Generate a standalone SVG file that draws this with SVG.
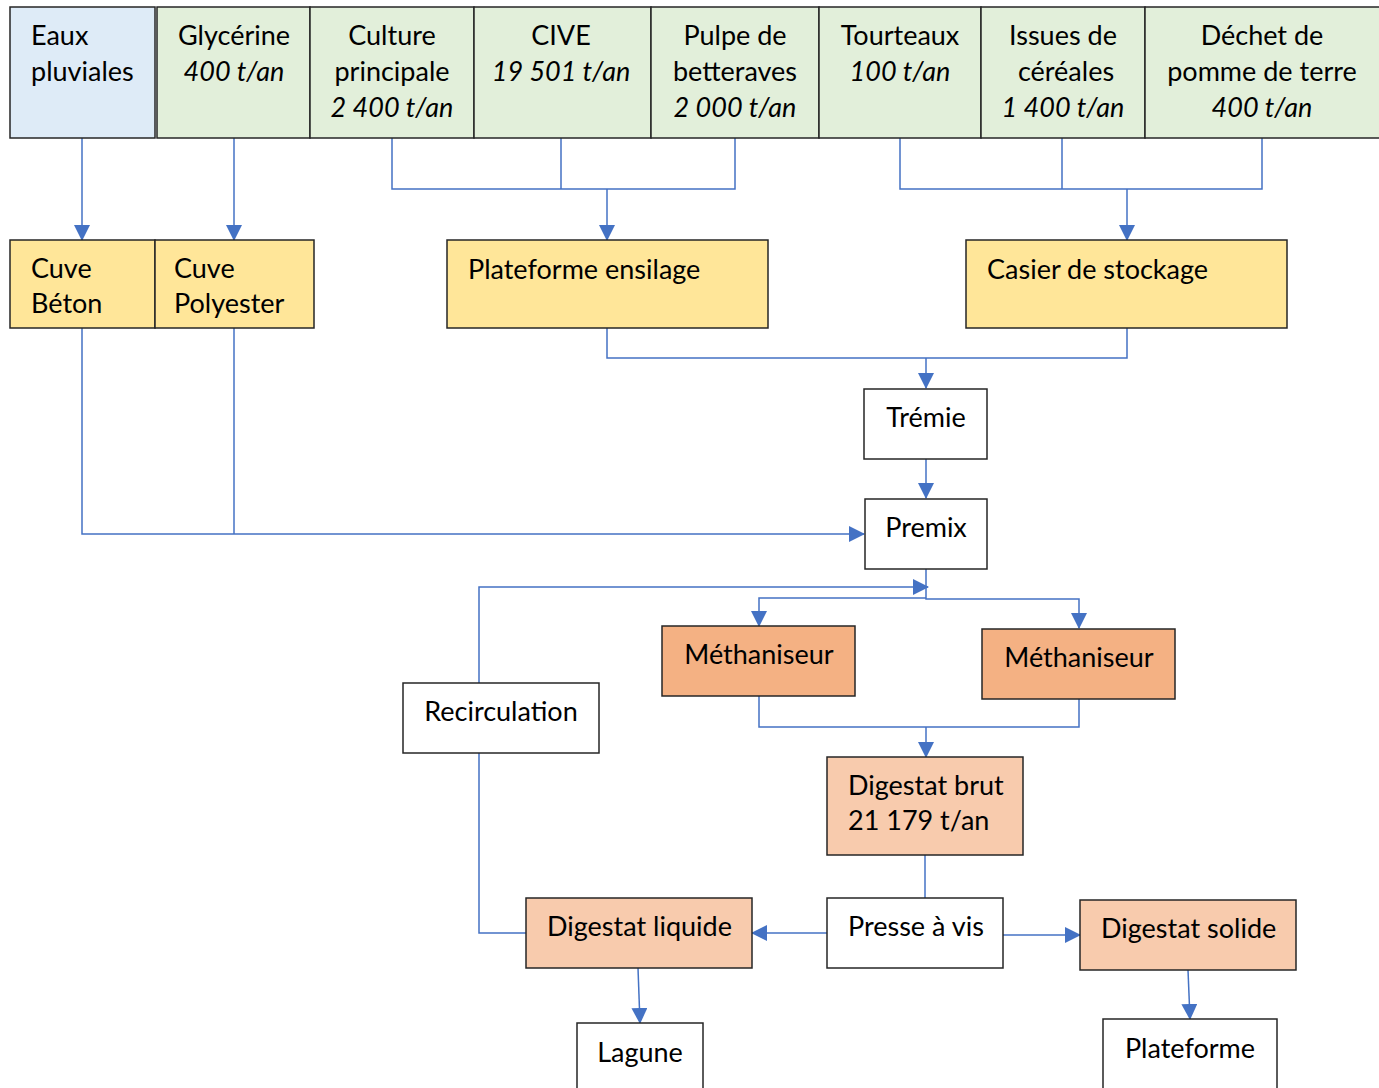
<svg xmlns="http://www.w3.org/2000/svg" width="1379" height="1088" viewBox="0 0 1379 1088">
<style>
.b{stroke:#262626;stroke-width:1.5}
.blue{fill:#deebf7}.green{fill:#e2efda}.yel{fill:#ffe699}.or{fill:#f4b183}.pk{fill:#f8cbad}.wh{fill:#ffffff}
text{font-family:Lato,"Open Sans","Liberation Sans",sans-serif;font-size:27px;fill:#000}
.c{text-anchor:middle}
.i{font-style:italic}
.ln{fill:none;stroke:#4472c4;stroke-width:1.5}
</style>
<defs>
<marker id="ah" markerUnits="userSpaceOnUse" markerWidth="16" markerHeight="16" viewBox="0 0 16 16" refX="15" refY="8" orient="auto">
<path d="M0,0 L16,8 L0,16 Z" fill="#4472c4"/>
</marker>
</defs>
<rect width="1379" height="1088" fill="#fff"/>

<g id="connectors">
<path class="ln" d="M82,138 V240" marker-end="url(#ah)"/>
<path class="ln" d="M234,138 V240" marker-end="url(#ah)"/>
<path class="ln" d="M392,138 V189 H735 V138 M561,138 V189"/>
<path class="ln" d="M607,189 V240" marker-end="url(#ah)"/>
<path class="ln" d="M900,138 V189 H1262 V138 M1062,138 V189"/>
<path class="ln" d="M1127,189 V240" marker-end="url(#ah)"/>
<path class="ln" d="M607,328 V358 H1127 V328"/>
<path class="ln" d="M926,358 V388" marker-end="url(#ah)"/>
<path class="ln" d="M926,459 V498" marker-end="url(#ah)"/>
<path class="ln" d="M82,328 V534 H864" marker-end="url(#ah)"/>
<path class="ln" d="M234,328 V534"/>
<path class="ln" d="M926,569 V599 H1079 V628" marker-end="url(#ah)"/>
<path class="ln" d="M926,598 H759 V626" marker-end="url(#ah)"/>
<path class="ln" d="M479,683 V587 H928" marker-end="url(#ah)"/>
<path class="ln" d="M759,696 V727 H1079 V699"/>
<path class="ln" d="M926,727 V757" marker-end="url(#ah)"/>
<path class="ln" d="M925,855 V898"/>
<path class="ln" d="M827,933 H752" marker-end="url(#ah)"/>
<path class="ln" d="M1003,935 H1080" marker-end="url(#ah)"/>
<path class="ln" d="M479,753 V933 H526"/>
<path class="ln" d="M638,968 L640,1023" marker-end="url(#ah)"/>
<path class="ln" d="M1188,970 L1190,1019" marker-end="url(#ah)"/>
</g>

<g id="eaux"><rect class="b blue" x="10" y="7" width="145" height="131"/><text x="31" y="45">Eaux</text><text x="31" y="81">pluviales</text></g>
<g id="glycerine"><rect class="b green" x="157" y="7" width="153" height="131"/><text class="c" x="234" y="45">Glycérine</text><text class="c i" x="234" y="81">400 t/an</text></g>
<g id="culture"><rect class="b green" x="310" y="7" width="164" height="131"/><text class="c" x="392" y="45">Culture</text><text class="c" x="392" y="81">principale</text><text class="c i" x="392" y="117">2 400 t/an</text></g>
<g id="cive"><rect class="b green" x="474" y="7" width="177" height="131"/><text class="c" x="561" y="45">CIVE</text><text class="c i" x="561" y="81">19 501 t/an</text></g>
<g id="pulpe"><rect class="b green" x="651" y="7" width="168" height="131"/><text class="c" x="735" y="45">Pulpe de</text><text class="c" x="735" y="81">betteraves</text><text class="c i" x="735" y="117">2 000 t/an</text></g>
<g id="tourteaux"><rect class="b green" x="819" y="7" width="162" height="131"/><text class="c" x="900" y="45">Tourteaux</text><text class="c i" x="900" y="81">100 t/an</text></g>
<g id="issues"><rect class="b green" x="981" y="7" width="164" height="131"/><text class="c" x="1063" y="45">Issues de</text><text class="c" x="1066" y="81">céréales</text><text class="c i" x="1063" y="117">1 400 t/an</text></g>
<g id="dechet"><rect class="b green" x="1145" y="7" width="240" height="131"/><text class="c" x="1262" y="45">Déchet de</text><text class="c" x="1262" y="81">pomme de terre</text><text class="c i" x="1262" y="117">400 t/an</text></g>

<g id="cuve-beton"><rect class="b yel" x="10" y="240" width="145" height="88"/><text x="31" y="278">Cuve</text><text x="31" y="313">Béton</text></g>
<g id="cuve-polyester"><rect class="b yel" x="155" y="240" width="159" height="88"/><text x="174" y="278">Cuve</text><text x="174" y="313">Polyester</text></g>
<g id="plateforme-ensilage"><rect class="b yel" x="447" y="240" width="321" height="88"/><text x="468" y="279">Plateforme ensilage</text></g>
<g id="casier"><rect class="b yel" x="966" y="240" width="321" height="88"/><text x="987" y="279">Casier de stockage</text></g>

<g id="tremie"><rect class="b wh" x="864" y="389" width="123" height="70"/><text class="c" x="926" y="427">Trémie</text></g>
<g id="premix"><rect class="b wh" x="865" y="499" width="122" height="70"/><text class="c" x="926" y="537">Premix</text></g>

<g id="methaniseur1"><rect class="b or" x="662" y="626" width="193" height="70"/><text class="c" x="759" y="664">Méthaniseur</text></g>
<g id="methaniseur2"><rect class="b or" x="982" y="629" width="193" height="70"/><text class="c" x="1079" y="667">Méthaniseur</text></g>
<g id="recirculation"><rect class="b wh" x="403" y="683" width="196" height="70"/><text class="c" x="501" y="721">Recirculation</text></g>

<g id="digestat-brut"><rect class="b pk" x="827" y="757" width="196" height="98"/><text x="848" y="795">Digestat brut</text><text x="848" y="830">21 179 t/an</text></g>
<g id="presse"><rect class="b wh" x="827" y="898" width="176" height="70"/><text x="848" y="936">Presse à vis</text></g>
<g id="digestat-liquide"><rect class="b pk" x="526" y="898" width="226" height="70"/><text x="547" y="936">Digestat liquide</text></g>
<g id="digestat-solide"><rect class="b pk" x="1080" y="900" width="216" height="70"/><text x="1101" y="938">Digestat solide</text></g>

<g id="lagune"><rect class="b wh" x="577" y="1023" width="126" height="80"/><text class="c" x="640" y="1062">Lagune</text></g>
<g id="plateforme"><rect class="b wh" x="1103" y="1019" width="174" height="80"/><text class="c" x="1190" y="1058">Plateforme</text></g>
</svg>
